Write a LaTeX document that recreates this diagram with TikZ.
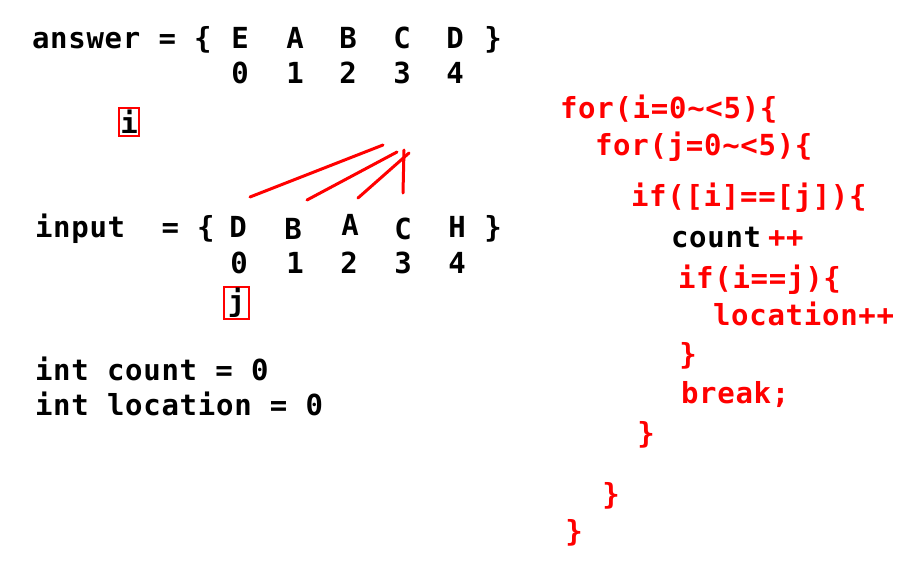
\documentclass[tikz,border=0pt]{standalone}
\usepackage{fontspec}
\newfontfamily\codefont{DejaVu Sans Mono}[LetterSpace=2.5]
\definecolor{codered}{RGB}{255,0,0}
\begin{document}
\begin{tikzpicture}[x=1pt,y=-1pt,
  txt/.style={inner sep=0pt, outer sep=0pt, font=\codefont\bfseries\fontsize{29}{35}\selectfont},
  blk/.style={txt, text=black, anchor=base west},
  red/.style={txt, text=codered, anchor=base west},
  ch/.style={txt, text=black, anchor=base},
  rch/.style={txt, text=codered, anchor=base},
  idx/.style={draw=codered, line width=2pt, txt, text=black, minimum width=20pt},
  stroke/.style={draw=codered, line width=3pt, line cap=round}
]
\useasboundingbox (0,0) rectangle (908,563);
% answer row
\node[blk] (ans) at (32,48) {answer = \{};
\node[ch] (a0) at (240,48) {E};
\node[ch] (a1) at (295,48) {A};
\node[ch] (a2) at (348,48) {B};
\node[ch] (a3) at (402,48) {C};
\node[ch] (a4) at (455,48) {D};
\node[ch] (ac) at (493,48) {\}};
\node[ch] (ai0) at (240,83) {0};
\node[ch] (ai1) at (295,83) {1};
\node[ch] (ai2) at (348,83) {2};
\node[ch] (ai3) at (402,83) {3};
\node[ch] (ai4) at (455,83) {4};
\node[idx, minimum height=28pt] (ibox) at (129,122) {i};
% input row
\node[blk] (inp) at (35,237) {input\ \ = \{};
\node[ch] (b0) at (238,237) {D};
\node[ch] (b1) at (293,239) {B};
\node[ch] (b2) at (350,235) {A};
\node[ch] (b3) at (403,239) {C};
\node[ch] (b4) at (457,237) {H};
\node[ch] (bc) at (493,237) {\}};
\node[ch] (bi0) at (239,273) {0};
\node[ch] (bi1) at (295,273) {1};
\node[ch] (bi2) at (349,273) {2};
\node[ch] (bi3) at (403,273) {3};
\node[ch] (bi4) at (457,273) {4};
\node[idx, minimum width=25pt, minimum height=32pt] (jbox) at (236.5,303) {j};
% variables
\node[blk] (cnt) at (35,380) {int count = 0};
\node[blk] (loc) at (35,415) {int location = 0};
% red strokes
\coordinate (s1a) at (250,197); \coordinate (s1b) at (383,145);
\coordinate (s2a) at (307,200); \coordinate (s2b) at (397,152);
\coordinate (s3a) at (358,198); \coordinate (s3b) at (409,153);
\coordinate (s4a) at (404,150); \coordinate (s4b) at (403,193);
\draw[stroke] (s1a) -- (s1b);
\draw[stroke] (s2a) -- (s2b);
\draw[stroke] (s3a) -- (s3b);
\draw[stroke] (s4a) -- (s4b);
% code
\node[red] (l1) at (560,118) {for(i=0\textasciitilde<5)\{};
\node[red] (l2) at (595,155) {for(j=0\textasciitilde<5)\{};
\node[red] (l3) at (631,206) {if([i]==[j])\{};
\node[blk] (l4) at (671,247) {count};
\node[red] (l4b) at (768,247) {++};
\node[red] (l5) at (678,288) {if(i==j)\{};
\node[red] (l6) at (713,325) {location++};
\node[rch] (l7) at (688,364) {\}};
\node[red] (l8) at (681,403) {break;};
\node[rch] (l9) at (646,443) {\}};
\node[rch] (l10) at (611,504) {\}};
\node[rch] (l11) at (574,541) {\}};
\end{tikzpicture}
\end{document}
